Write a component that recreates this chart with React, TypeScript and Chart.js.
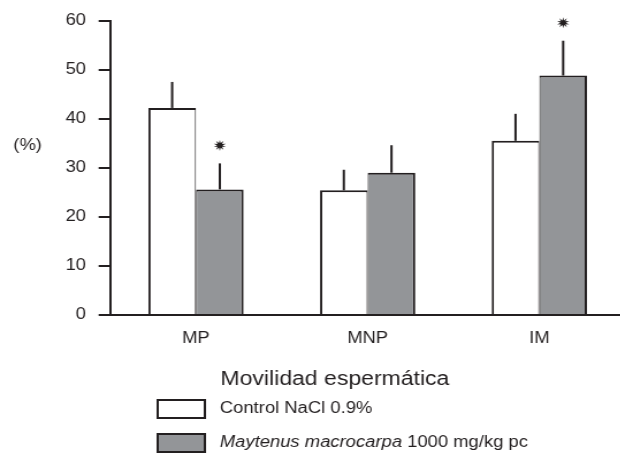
import React, { useEffect, useRef } from "react";
import { Chart, registerables } from "chart.js";

Chart.register(...registerables);

// ---- data ----
const categories = ["MP", "MNP", "IM"];
const controlValues = [42.2, 25.4, 35.5];
const controlErrors = [5.3, 4.2, 5.5];
const treatedValues = [25.6, 29.0, 48.8];
const treatedErrors = [5.3, 5.6, 7.1];
const controlMarks = ["", "", ""];
const treatedMarks = ["*", "", "*"];
const yTickValues = [0, 10, 20, 30, 40, 50, 60];
const yAxisLabel = "(%)";
const xAxisTitle = "Movilidad espermática";
const controlLegend = [{ text: "Control NaCl 0.9%", italic: false }];
const treatedLegend = [
  { text: "Maytenus macrocarpa", italic: true },
  { text: " 1000 mg/kg pc", italic: false },
];

// ---- style ----
const FONT = "'Liberation Sans', Arial, Helvetica, sans-serif";
const INK = "#231f20";
const GRAY = "#939598";
const STRETCH = 1.15;
const LOGICAL_W = 550;
const H = 466;

function drawStar(ctx: CanvasRenderingContext2D, cx: number, cy: number, ro: number, ri: number, n: number) {
  ctx.beginPath();
  for (let k = 0; k < n * 2; k++) {
    const r = k % 2 === 0 ? ro : ri;
    const a = (Math.PI * k) / n - Math.PI / 2;
    const px = cx + r * Math.cos(a);
    const py = cy + r * Math.sin(a);
    if (k === 0) ctx.moveTo(px, py);
    else ctx.lineTo(px, py);
  }
  ctx.closePath();
  ctx.fill();
}

const errorBarPlugin = {
  id: "errorBars",
  afterDatasetsDraw(chart: any) {
    const ctx = chart.ctx as CanvasRenderingContext2D;
    const yScale = chart.scales.y;
    chart.data.datasets.forEach((ds: any, di: number) => {
      const meta = chart.getDatasetMeta(di);
      meta.data.forEach((el: any, i: number) => {
        const v = ds.data[i];
        const e = ds.errors[i];
        const top = yScale.getPixelForValue(v + e);
        ctx.save();
        ctx.strokeStyle = INK;
        ctx.lineWidth = 2;
        ctx.beginPath();
        ctx.moveTo(el.x, el.y);
        ctx.lineTo(el.x, top);
        ctx.stroke();
        if (ds.marks[i]) {
          ctx.fillStyle = INK;
          drawStar(ctx, el.x, top - 18, 5.5, 2.4, 10);
        }
        ctx.restore();
      });
    });
  },
};

const annotationPlugin = {
  id: "annotations",
  afterDraw(chart: any) {
    const ctx = chart.ctx as CanvasRenderingContext2D;
    ctx.save();
    ctx.fillStyle = INK;
    // y-axis label
    ctx.font = `16px ${FONT}`;
    ctx.textAlign = "center";
    ctx.textBaseline = "middle";
    ctx.fillText(yAxisLabel, 24, 146);
    // x-axis title
    ctx.font = `20px ${FONT}`;
    ctx.textAlign = "center";
    ctx.textBaseline = "alphabetic";
    ctx.fillText(xAxisTitle, 291, 385);
    // legend
    const legends = [controlLegend, treatedLegend];
    const boxX = 137;
    const boxW = 41;
    const boxH = 18;
    const rowY = [409, 443];
    legends.forEach((parts, li) => {
      const ds = chart.data.datasets[li];
      const cy = rowY[li];
      ctx.fillStyle = ds.backgroundColor;
      ctx.fillRect(boxX, cy - boxH / 2, boxW, boxH);
      ctx.strokeStyle = INK;
      ctx.lineWidth = 2;
      ctx.strokeRect(boxX, cy - boxH / 2, boxW, boxH);
      ctx.fillStyle = INK;
      ctx.textAlign = "left";
      ctx.textBaseline = "middle";
      let x = 191;
      parts.forEach((p) => {
        ctx.font = `${p.italic ? "italic " : ""}16px ${FONT}`;
        ctx.fillText(p.text, x, cy);
        x += ctx.measureText(p.text).width;
      });
    });
    ctx.restore();
  },
};

export default function App() {
  const canvasRef = useRef<HTMLCanvasElement | null>(null);

  useEffect(() => {
    if (!canvasRef.current) return;
    const chart = new Chart(canvasRef.current, {
      type: "bar",
      data: {
        labels: categories,
        datasets: [
          {
            label: controlLegend.map((p) => p.text).join(""),
            data: controlValues,
            errors: controlErrors,
            marks: controlMarks,
            backgroundColor: "#ffffff",
            borderColor: INK,
            borderWidth: { top: 2, left: 2, right: 1, bottom: 0 },
            borderSkipped: false,
          } as any,
          {
            label: treatedLegend.map((p) => p.text).join(""),
            data: treatedValues,
            errors: treatedErrors,
            marks: treatedMarks,
            backgroundColor: GRAY,
            borderColor: INK,
            borderWidth: { top: 2, left: 1, right: 2, bottom: 0 },
            borderSkipped: false,
          } as any,
        ],
      },
      options: {
        responsive: false,
        devicePixelRatio: 1,
        animation: false,
        layout: { padding: { top: 20, right: 6.8, left: 0, bottom: 0 } },
        plugins: {
          legend: { display: false },
          tooltip: { enabled: false },
          title: { display: false },
        },
        datasets: {
          bar: { categoryPercentage: 0.555, barPercentage: 1 },
        },
        scales: {
          x: {
            z: 1,
            grid: { display: true, drawOnChartArea: false, drawTicks: false, color: "rgba(0,0,0,0)" },
            border: { display: true, color: INK, width: 2 },
            ticks: {
              color: INK,
              font: { family: FONT, size: 16 },
              padding: 14,
              maxRotation: 0,
            },
            afterFit(scale: any) {
              scale.height = H - 315;
            },
          },
          y: {
            z: 1,
            min: 0,
            max: 60,
            grid: { drawOnChartArea: false, drawTicks: true, tickLength: 10, color: INK, lineWidth: 2 },
            border: { display: true, color: INK, width: 2 },
            ticks: {
              color: INK,
              font: { family: FONT, size: 16 },
              padding: 11,
              stepSize: 10,
            },
            afterBuildTicks(scale: any) {
              scale.ticks = yTickValues.map((v) => ({ value: v }));
            },
            afterFit(scale: any) {
              scale.width = 95.7;
            },
          },
        },
      } as any,
      plugins: [errorBarPlugin, annotationPlugin],
    });
    return () => chart.destroy();
  }, []);

  return (
    <div
      style={{
        position: "absolute",
        left: 0,
        top: 0,
        width: 620,
        height: H,
        overflow: "hidden",
        background: "#ffffff",
      }}
    >
      <canvas
        ref={canvasRef}
        width={LOGICAL_W}
        height={H}
        style={{ width: `${LOGICAL_W * STRETCH}px`, height: `${H}px`, display: "block" }}
      />
    </div>
  );
}
